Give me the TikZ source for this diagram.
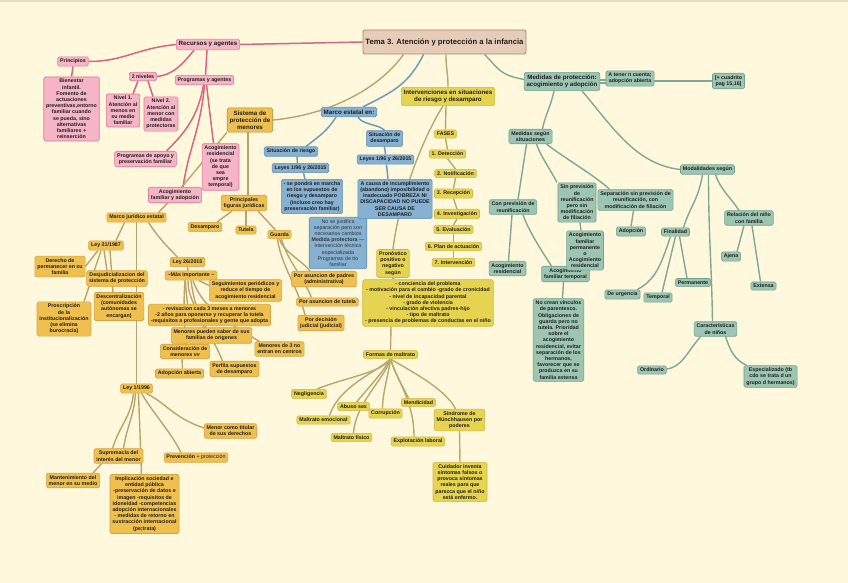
\documentclass[tikz,border=0pt]{standalone}
\usepackage{fontspec}
\setmainfont{Liberation Sans}
\usetikzlibrary{backgrounds}
\definecolor{bgc}{HTML}{FFF8DD}
\definecolor{topc}{HTML}{E4E0C6}
\definecolor{txt}{HTML}{1E1E1E}
\definecolor{pkF}{HTML}{F5B5C6}\definecolor{pkD}{HTML}{DE7A98}\definecolor{pkL}{HTML}{D8667F}
\definecolor{ogF}{HTML}{EFC050}\definecolor{ogD}{HTML}{D2A445}\definecolor{ogL}{HTML}{BCA36C}
\definecolor{blF}{HTML}{86B1D1}\definecolor{blD}{HTML}{6190B3}\definecolor{blL}{HTML}{6F9CBD}
\definecolor{ylF}{HTML}{E6D450}\definecolor{ylD}{HTML}{CDB84A}\definecolor{ylL}{HTML}{B8A86C}
\definecolor{grF}{HTML}{9DC6B2}\definecolor{grD}{HTML}{74A18D}\definecolor{grL}{HTML}{80A897}
\definecolor{temaF}{HTML}{E7CDB8}\definecolor{temaD}{HTML}{A88866}
\newcommand\fsA{\fontsize{5.3}{6.2}\selectfont}
\newcommand\fsB{\fontsize{6.2}{7.2}\selectfont}
\newcommand\fsT{\fontsize{7.7}{9}\selectfont}
\begin{document}
\begin{tikzpicture}[x=1pt,y=-1pt,
  nd/.style={draw, rounded corners=1.6pt, line width=0.6pt, align=center, inner xsep=2.4pt, inner ysep=2.2pt, font=\fsA\bfseries, text=txt},
  pk/.style={nd, fill=pkF, draw=pkD},
  og/.style={nd, fill=ogF, draw=ogD},
  bl/.style={nd, fill=blF, draw=blD},
  yl/.style={nd, fill=ylF, draw=ylD},
  gr/.style={nd, fill=grF, draw=grD},
  big/.style={font=\fsB\bfseries, inner ysep=2.6pt},
  cpk/.style={draw=pkL, line width=1.5pt},
  cog/.style={draw=ogL, line width=1.4pt},
  cbl/.style={draw=blL, line width=1.5pt},
  cyl/.style={draw=ylL, line width=1.4pt},
  cgr/.style={draw=grL, line width=1.4pt}]
\useasboundingbox (0,0) rectangle (848,583);
\begin{scope}[on background layer]
\fill[bgc] (0,0) rectangle (848,583);
\fill[topc] (0,0) rectangle (848,2);
\end{scope}

% ---- title
\node[nd, fill=temaF, draw=temaD, line width=0.9pt, font=\fsT\bfseries, minimum width=163pt, minimum height=24pt] (tema) at (444.5,42) {Tema 3. Atención y protección a la infancia};

% ---- pink
\node[pk, big] (recursos) at (208,44.5) {Recursos y agentes};
\node[pk] (principios) at (73,61.5) {Principios};
\node[pk] (bienestar) at (71.5,109) {Bienestar\\infantil.\\Fomento de\\actuaciones\\preventivas,entorno\\familiar cuando\\se pueda, sino\\alternativas\\familiares +\\reinserción};
\node[pk] (niveles) at (143,76.5) {2 niveles};
\node[pk] (programas) at (204.5,80) {Programas y agentes};
\node[pk] (nivel1) at (123,110.5) {Nivel 1.\\Atención al\\menos en\\su medio\\familiar};
\node[pk] (nivel2) at (161,114) {Nivel 2.\\Atención al\\menor con\\medidas\\protectoras};
\node[pk] (apoyo) at (145.5,159) {Programas de apoyo y\\preservación familiar};
\node[pk] (acogres) at (220.5,167) {Acogimiento\\residencial\\(se trata\\de que\\sea\\smpre\\temporal)};
\node[pk] (acogfam) at (175,195) {Acogimiento\\familiar y adopción};

% ---- orange
\node[og, big, draw=ogD!85!black] (sistema) at (250,120) {Sistema de\\protección de\\menores};
\node[og] (principales) at (244,203) {Principales\\figuras jurídicas};
\node[og] (desamparo) at (205,227) {Desamparo};
\node[og] (tutela) at (246,230) {Tutela};
\node[og] (guarda) at (279.5,234.5) {Guarda};
\node[og] (padres) at (324,279) {Por asuncion de padres\\(administrativa)};
\node[og] (asuntutela) at (327.5,302) {Por asuncion de tutela};
\node[og] (judicial) at (321,323) {Por decisión\\judicial (judicial)};
\node[og] (marcoj) at (136.5,217.5) {Marco jurídico estatal};
\node[og] (ley21) at (106,245.5) {Ley 21/1987};
\node[og] (derecho) at (60,266.5) {Derecho de\\permanecer en su\\familia};
\node[og] (desjud) at (117,278.5) {Desjudicializacion del\\sistema de protección};
\node[og] (descent) at (119,306.5) {Descentralización\\(comunidades\\autónomas se\\encargan)};
\node[og] (proscrip) at (64,319) {Proscripción\\de la\\institucionalización\\(se elimina\\burocracia)};
\node[og] (ley26) at (187.5,262) {Ley 26/2015};
\node[og] (masimp) at (191,275.5) {\textasciitilde Más importante \textasciitilde};
\node[og] (seguim) at (245.5,290.5) {Seguimientos periódicos y\\reduce el tiempo de\\acogimiento residencial};
\node[og] (revis) at (209.5,315) {- revisacion cada 3 meses a menores\\-2 años para oponerse y recuperar la tutela\\-requisitos a profesionales y gente que adopta};
\node[og] (menpued) at (211.5,335.5) {Menores pueden saber de sus\\familias de origenes};
\node[og] (consider) at (185,351.5) {Consideración de\\menores vv};
\node[og] (menores3) at (279.5,349) {Menores de 3 no\\entran en centros};
\node[og] (perfila) at (234.5,369) {Perfila supuestos\\de desamparo};
\node[og] (adopab) at (179.5,373.5) {Adopción abierta};
\node[og] (ley1996) at (136.5,388.5) {Ley 1/1996};
\node[og] (suprem) at (118.5,456) {Supremacía del\\interés del menor};
\node[og] (manten) at (73,480.5) {Mantenimiento del\\menor en su medio};
\node[og] (implic) at (144.5,504) {Implicación sociedad e\\entidad pública\\-preservación de datos e\\imagen -requisitos de\\idoneidad -competencias\\adopción internacionales\\- medidas de retorno en\\sustracción internacional\\(pe;trata)};
\node[og] (prevencion) at (196,457.5) {Prevención {\mdseries + protección}};
\node[og] (titular) at (230.5,431) {Menor como titular\\de sus derechos};

% ---- blue
\node[bl, big] (marcoe) at (349,112) {Marco estatal en:};
\node[bl] (sitriesgo) at (291,151.5) {Situación de riesgo};
\node[bl] (leyesR) at (300.5,168) {Leyes 1/96 y 26/2015};
\node[bl] (pondra) at (312,196.5) {- se pondrá en marcha\\en los supuestos de\\riesgo y desamparo\\(incluso creo hay\\preservación familiar)};
\node[bl, font=\fsA, text=black!80] (nojust) at (338,243) {No se justifica\\separación pero son\\necesarios cambios\\\textbf{Medida protectora} —\\intervención técnica\\especializada\\Programas de tto\\familiar};
\node[bl] (sitdes) at (384.5,138.5) {Situación de\\desamparo};
\node[bl] (leyesD) at (385.5,159.5) {Leyes 1/96 y 26/2015};
\node[bl] (causa) at (395,199) {A causa de incumplimiento\\(abandono) imposibilidad o\\inadecuado POBREZA NI\\DISCAPACIDAD NO PUEDE\\SER CAUSA DE\\DESAMPARO};

% ---- yellow
\node[yl, big] (interv) at (448,96.5) {Intervenciones en situaciones\\de riesgo y desamparo};
\node[yl] (fases) at (445.5,134) {FASES};
\node[yl] (d1) at (447.5,154) {1. Detección};
\node[yl] (d2) at (455.5,173.5) {2. Notificación};
\node[yl] (d3) at (453.5,193.5) {3. Recepción};
\node[yl] (d4) at (457,214) {4. Investigación};
\node[yl] (d5) at (453.5,229.5) {5. Evaluación};
\node[yl] (d6) at (453.5,246.5) {6. Plan de actuación};
\node[yl] (d7) at (453.5,262.5) {7. Intervención};
\node[yl] (pronostico) at (393,263.5) {Pronóstico\\positivo o\\negativo\\según};
\node[yl] (cond) at (428,303) {- conciencia del problema\\- motivación para el cambio -grado de cronicidad\\- nivel de incapacidad parental\\- grado de violencia\\- vinculación afectiva padres-hijo\\- tipo de maltrato\\- presencia de problemas de conductas en el niño};
\node[yl] (formas) at (390.5,354.5) {Formas de maltrato};
\node[yl] (negl) at (309,394) {Negligencia};
\node[yl] (abuso) at (353.5,406.5) {Abuso sex};
\node[yl] (emoc) at (323.5,420) {Maltrato emocional};
\node[yl] (corrup) at (385.5,413.5) {Corrupción};
\node[yl] (mendic) at (418.5,402.5) {Mendicidad};
\node[yl] (fisico) at (351.5,437.5) {Maltrato físico};
\node[yl] (explot) at (418,441.5) {Explotación laboral};
\node[yl] (sindrome) at (459.5,420) {Síndrome de\\Münchhausen por\\poderes};
\node[yl] (cuidador) at (460,482) {Cuidador inventa\\síntomas falsos o\\provoca síntomas\\reales para que\\parezca que el niño\\está enfermo.};

% ---- green
\node[gr, big] (medprot) at (562,81.5) {Medidas de protección:\\acogimiento y adopción};
\node[gr] (atener) at (630,78.5) {A tener n cuenta;\\adopción abierta};
\node[gr] (cuadrito) at (728.5,81) {[+ cuadrito\\pag 15,16]};
\node[gr] (modalidades) at (707.5,169.5) {Modalidades según};
\node[gr] (medsegun) at (530.5,136.5) {Medidas según\\situaciones};
\node[gr] (conprev) at (513,207) {Con previsión de\\reunificación};
\node[gr] (sinprev) at (577,202.5) {Sin previsión\\de\\reunificación\\pero sin\\modificación\\de filiación};
\node[gr] (separacion) at (635.5,200) {Separación sin previsión de\\reunificación, con\\modificación de filiación};
\node[gr] (adopcion) at (631,231.5) {Adopción};
\node[gr] (acogres2) at (507.5,268.5) {Acogimiento\\residencial};
\node[gr] (acogtemp) at (565.5,274) {Acogimiento\\familiar temporal};
\node[gr] (acogperm) at (585,250.5) {Acogimiento\\familiar\\permanente\\o\\Acogimiento\\residencial};
\node[gr] (nocrean) at (558.5,340) {No crean vínculos\\de parentesco.\\Obligaciones de\\guarda pero no\\tutela. Prioridad\\sobre el\\acogimiento\\residencial, evitar\\separación de los\\hermanos,\\favorecer que se\\produzca en su\\familia extensa};
\node[gr] (finalidad) at (675.5,232) {Finalidad};
\node[gr] (relacion) at (749,218) {Relación del niño\\con familia};
\node[gr] (ajena) at (731,256.5) {Ajena};
\node[gr] (extensa) at (763.5,286) {Extensa};
\node[gr] (deurg) at (622.5,294.5) {De urgencia};
\node[gr] (temporal) at (658,297.5) {Temporal};
\node[gr] (permanente) at (693,282.5) {Permanente};
\node[gr] (caract) at (715.5,329) {Características\\de niños};
\node[gr] (ordinario) at (652,370) {Ordinario};
\node[gr] (especial) at (770.5,376.5) {Especializado (tb\\cdo se trata d un\\grupo d hermanos)};

% ================= connectors
\begin{scope}[on background layer]
% pink
\draw[cpk] (tema.west) -- (recursos.east);
\draw[cpk] (recursos.west) .. controls +(-40,4) and +(35,0) .. (principios.east);
\draw[cpk] (principios.south) -- (bienestar.north);
\draw[cpk] ([xshift=-14pt]recursos.south) .. controls +(-10,12) and +(18,-2) .. (niveles.east);
\draw[cpk] ([xshift=-1pt]recursos.south) -- ([xshift=1pt]programas.north);
\draw[cpk] ([xshift=-5pt]niveles.south) -- ([xshift=10pt]nivel1.north);
\draw[cpk] ([xshift=5pt]niveles.south) -- ([xshift=-8pt]nivel2.north);
\draw[cpk] ([xshift=-1pt]programas.south) .. controls +(-6,35) and +(15,-15) .. ([xshift=21pt]apoyo.north);
\draw[cpk] ([xshift=2pt]programas.south) -- ([xshift=-7pt]acogres.north);
\draw[cpk] (programas.south) .. controls +(-4,45) and +(6,-40) .. ([xshift=8pt]acogfam.north);
% tan (sistema)
\draw[cog] ([xshift=-41pt]tema.south) .. controls +(-25,35) and +(55,-5) .. (sistema.east);
\draw[cog] (sistema.south west) .. controls +(-25,30) and +(20,-20) .. ([xshift=22pt]marcoj.north);
\draw[cog] ([xshift=-2pt]sistema.south) -- ([xshift=4pt]principales.north);
\draw[cog] ([xshift=-12pt]principales.south) -- ([xshift=12pt]desamparo.north);
\draw[cog] ([xshift=2pt]principales.south) -- (tutela.north);
\draw[cog] ([xshift=14pt]principales.south) -- ([xshift=-4pt]guarda.north);
\draw[cog] (guarda.south) .. controls +(3,12) and +(-10,-12) .. ([xshift=-14pt]padres.north);
\draw[cog] ([xshift=2pt]guarda.south) .. controls +(5,20) and +(-8,-20) .. ([xshift=-16pt]asuntutela.north);
\draw[cog] ([xshift=-2pt]guarda.south) .. controls +(3,25) and +(-6,-25) .. ([xshift=-16pt]judicial.north);
\draw[cog] ([xshift=-12pt]marcoj.south) -- ([xshift=10pt]ley21.north);
\draw[cog] (marcoj.south) -- (ley1996.north);
\draw[cog] ([xshift=12pt]marcoj.south) .. controls +(8,12) and +(-15,-15) .. ([xshift=-10pt]ley26.north);
\draw[cog] ([xshift=-8pt]ley21.south) -- (derecho.east);
\draw[cog] ([xshift=-2pt]ley21.south) -- ([xshift=-10pt]desjud.north);
\draw[cog] ([xshift=4pt]ley21.south) -- ([xshift=-6pt]descent.north);
\draw[cog] ([xshift=-5pt]ley21.south) -- ([xshift=20pt]proscrip.north);
\draw[cog] (ley26.south) -- ([xshift=-3pt]masimp.north);
\draw[cog] ([xshift=8pt]masimp.south) -- ([yshift=5pt]seguim.west);
\draw[cog] ([xshift=-6pt]masimp.south) -- ([xshift=-22pt]revis.north);
\draw[cog] ([xshift=-3pt]masimp.south) .. controls +(0,20) and +(-5,-20) .. ([xshift=-8pt]menpued.north);
\draw[cog] ([xshift=-6pt]masimp.south) .. controls +(-2,30) and +(0,-30) .. (consider.north);
\draw[cog] ([xshift=2pt]masimp.south) .. controls +(10,30) and +(-25,-15) .. ([xshift=-20pt]menores3.north);
\draw[cog] ([xshift=0pt]masimp.south) .. controls +(5,40) and +(-12,-30) .. ([xshift=-12pt]perfila.north);
\draw[cog] ([xshift=-3pt]consider.south) -- ([xshift=3pt]adopab.north);
\draw[cog] ([xshift=-3pt]ley1996.south) .. controls +(-3,25) and +(8,-25) .. ([xshift=-6pt]suprem.north);
\draw[cog] ([xshift=-1pt]ley1996.south) .. controls +(-2,25) and +(4,-25) .. ([xshift=5pt]suprem.north);
\draw[cog] ([xshift=2pt]ley1996.south) -- ([xshift=-3pt]implic.north);
\draw[cog] ([xshift=5pt]ley1996.south) .. controls +(12,20) and +(-10,-20) .. ([xshift=-15pt]prevencion.north);
\draw[cog] ([xshift=10pt]ley1996.south) .. controls +(20,10) and +(-30,-10) .. ([yshift=3pt]titular.west);
\draw[cog] ([xshift=-17pt]suprem.south) -- ([xshift=20pt]manten.north);
% blue
\draw[cbl] ([xshift=-21pt]tema.south) .. controls +(-15,30) and +(30,-15) .. ([xshift=14pt]marcoe.north);
\draw[cbl] ([xshift=-13pt]marcoe.south) .. controls +(-10,15) and +(15,-12) .. ([xshift=15pt]sitriesgo.north);
\draw[cbl] ([xshift=9pt]marcoe.south) .. controls +(5,8) and +(-5,-6) .. (sitdes.north);
\draw[cbl] ([xshift=6pt]sitriesgo.south) -- ([xshift=-3pt]leyesR.north);
\draw[cbl] ([xshift=3pt]leyesR.south) -- ([xshift=-7pt]pondra.north);
\draw[cbl] (sitdes.south) -- (leyesD.north);
\draw[cbl] ([xshift=1pt]leyesD.south) -- ([xshift=-7pt]causa.north);
% yellow
\draw[cyl] ([xshift=1.5pt]tema.south) .. controls +(0,15) and +(0,-15) .. (interv.north);
\draw[cyl] ([xshift=-5pt]interv.south) .. controls +(-22,35) and +(5,-45) .. (pronostico.north);
\draw[cyl] ([xshift=-2pt]interv.south) -- (fases.north);
\draw[cyl] (fases.south) -- (d1.north);
\draw[cyl] (d1.south) -- (d2.north);
\draw[cyl] (d2.south) -- (d3.north);
\draw[cyl] (d3.south) -- (d4.north);
\draw[cyl] (d4.south) -- (d5.north);
\draw[cyl] (d5.south) -- (d6.north);
\draw[cyl] (d6.south) -- (d7.north);
\draw[cyl] (pronostico.south) -- ([xshift=-35pt]cond.north);
\draw[cyl] ([xshift=-37pt]cond.south) -- (formas.north);
\draw[cyl] (formas.south) .. controls +(-10,14) and +(30,-12) .. ([xshift=8pt]negl.north);
\draw[cyl] (formas.south) .. controls +(-15,14) and +(10,-30) .. ([xshift=6pt]emoc.north);
\draw[cyl] (formas.south) .. controls +(-8,14) and +(10,-12) .. ([xshift=3pt]abuso.north);
\draw[cyl] (formas.south) .. controls +(-6,20) and +(2,-30) .. ([xshift=2pt]fisico.north);
\draw[cyl] (formas.south) .. controls +(-2,15) and +(0,-15) .. ([xshift=-3pt]corrup.north);
\draw[cyl] (formas.south) .. controls +(4,14) and +(-6,-12) .. ([xshift=-10pt]mendic.north);
\draw[cyl] (formas.south) .. controls +(6,20) and +(0,-35) .. ([xshift=-4pt]explot.north);
\draw[cyl] (formas.south) .. controls +(20,12) and +(-10,-20) .. ([xshift=-4pt]sindrome.north);
\draw[cyl] (sindrome.south) -- (cuidador.north);
% green
\draw[cgr] ([xshift=40pt]tema.south) .. controls +(15,15) and +(-25,-5) .. ([yshift=2pt]medprot.west);
\draw[cgr] ([yshift=1.5pt]medprot.east) -- ([yshift=-1.5pt]atener.west);
\draw[cgr] ([yshift=-1.5pt]medprot.east) -- ([yshift=-4.5pt]atener.west);
\draw[cgr] ([yshift=-2.5pt]atener.east) -- ([yshift=0pt]cuadrito.west);
\draw[cgr] ([xshift=-8pt]medprot.south) .. controls +(-3,15) and +(3,-15) .. ([xshift=12pt]medsegun.north);
\draw[cgr] ([xshift=20pt]medprot.south) .. controls +(30,35) and +(-45,-5) .. (modalidades.west);
\draw[cgr] ([xshift=-4pt]medsegun.south) -- ([xshift=5pt]conprev.north);
\draw[cgr] ([xshift=6pt]medsegun.south) .. controls +(4,12) and +(-6,-12) .. ([xshift=-20pt]sinprev.north);
\draw[cgr] ([xshift=16pt]medsegun.south) .. controls +(15,12) and +(-12,-12) .. ([xshift=-26pt]separacion.north);
\draw[cgr] ([xshift=-1pt]conprev.south) -- ([xshift=1pt]acogres2.north);
\draw[cgr] ([xshift=10pt]conprev.south) .. controls +(5,15) and +(-10,-15) .. ([xshift=-14pt]acogtemp.north);
\draw[cgr] ([xshift=3pt]sinprev.south) -- ([xshift=-4pt]acogperm.north);
\draw[cgr] ([xshift=-2pt]separacion.south) -- (adopcion.north);
\draw[cgr] ([xshift=-2pt]acogtemp.south) -- ([xshift=4pt]nocrean.north);
\draw[cgr] ([xshift=-5pt]modalidades.south) .. controls +(-4,25) and +(6,-20) .. ([xshift=8pt]finalidad.north);
\draw[cgr] ([xshift=1pt]modalidades.south) .. controls +(0,60) and +(-1,-60) .. ([xshift=-3pt]caract.north);
\draw[cgr] ([xshift=8pt]modalidades.south) .. controls +(4,14) and +(-6,-10) .. ([xshift=-10pt]relacion.north);
\draw[cgr] ([xshift=-5pt]finalidad.south) .. controls +(-10,30) and +(18,-10) .. ([xshift=-3pt]deurg.north east);
\draw[cgr] (finalidad.south) -- ([xshift=4pt]temporal.north);
\draw[cgr] ([xshift=4pt]finalidad.south) -- ([xshift=-6pt]permanente.north);
\draw[cgr] ([xshift=-5pt]relacion.south) -- ([xshift=6pt]ajena.north);
\draw[cgr] ([xshift=3pt]relacion.south) -- ([xshift=-3pt]extensa.north);
\draw[cgr] ([xshift=-15pt]caract.south) .. controls +(-15,18) and +(15,-2) .. ([yshift=1pt]ordinario.east);
\draw[cgr] ([xshift=10pt]caract.south) .. controls +(5,15) and +(-12,-6) .. ([xshift=-24pt]especial.north);
\end{scope}
\end{tikzpicture}
\end{document}
